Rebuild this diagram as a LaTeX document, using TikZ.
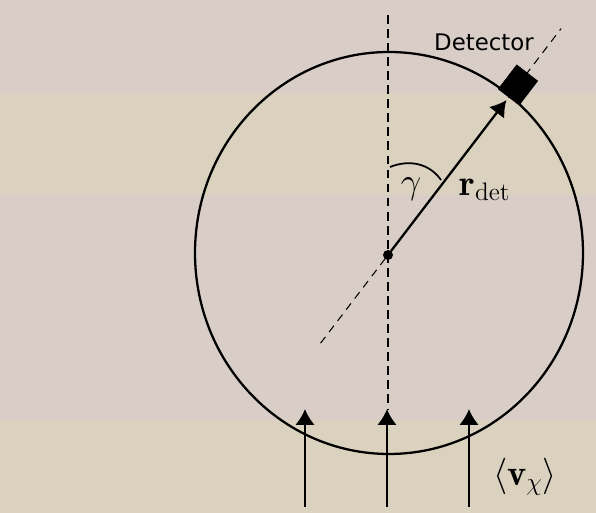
\documentclass[tikz,border=0pt]{standalone}
\usepackage{amsmath,amssymb}
\usepackage{fontspec}
\newfontfamily\detfont{DejaVu Sans}
\usepackage{tikz}
\usetikzlibrary{calc,arrows.meta}
\definecolor{paper}{HTML}{DAD2BF}
\definecolor{speckle}{HTML}{D8CEC7}
\tikzset{rim/.style={line width=1.3pt},
  beam/.style={line width=1.3pt,-{Latex[length=9pt,width=11pt]}},
  axisline/.style={line width=0.8pt,dash pattern=on 5pt off 3pt},
  sight/.style={line width=0.6pt,dash pattern=on 4.5pt off 3.5pt},
  detbox/.style={fill=black,minimum width=0.62cm,minimum height=0.54cm,inner sep=0pt}}

\begin{document}
\begin{tikzpicture}[x=0.02cm,y=0.02cm]
\useasboundingbox (0,0) rectangle (596,513);
\fill[speckle] (0,0) rectangle (596,513);
\fill[paper] (0,318) rectangle (596,420); \fill[paper] (0,0) rectangle (596,93);
\coordinate (O) at (388,258); \coordinate (top) at (388,498);
\draw[rim] (389,260) ellipse [x radius=194, y radius=201];
% line of sight through the detector
\coordinate (tail) at ($(O)+(232.6:111)$); \coordinate (head) at ($(O)+(52.6:285)$);
\draw[sight] (tail) -- (head);
\draw[axisline] (top) -- (388,104);
\node[detbox,rotate=52.6] (det) at ($(O)+(52.6:214)$) {};
\coordinate (rtip) at ($(O)+(52.6:195)$);
\draw[beam] (O) -- (rtip);
\fill (O) circle (5);
\coordinate (g1) at (390,346); \coordinate (g2) at (441,333);
\draw[line width=1pt] (g1) to[out=22,in=125] (g2);
% incoming flux
\foreach \xx/\nm in {305/left,387/mid,469/right}{
  \coordinate (\nm-b) at (\xx,6); \coordinate (\nm-t) at (\xx,104);
  \draw[beam] (\nm-b) -- (\nm-t);}
\node[font=\detfont\fontsize{13}{15}\selectfont] (detlabel) at (484,471) {Detector};
\node[font=\huge] (gam) at (411,324) {$\gamma$};
\node[font=\huge] (rdet) at (485,323) {$\mathbf{r}_{\mathrm{det}}$};
\node[font=\huge] (vchi) at (525,36) {$\langle\mathbf{v}_\chi\rangle$};
\end{tikzpicture}
\end{document}
